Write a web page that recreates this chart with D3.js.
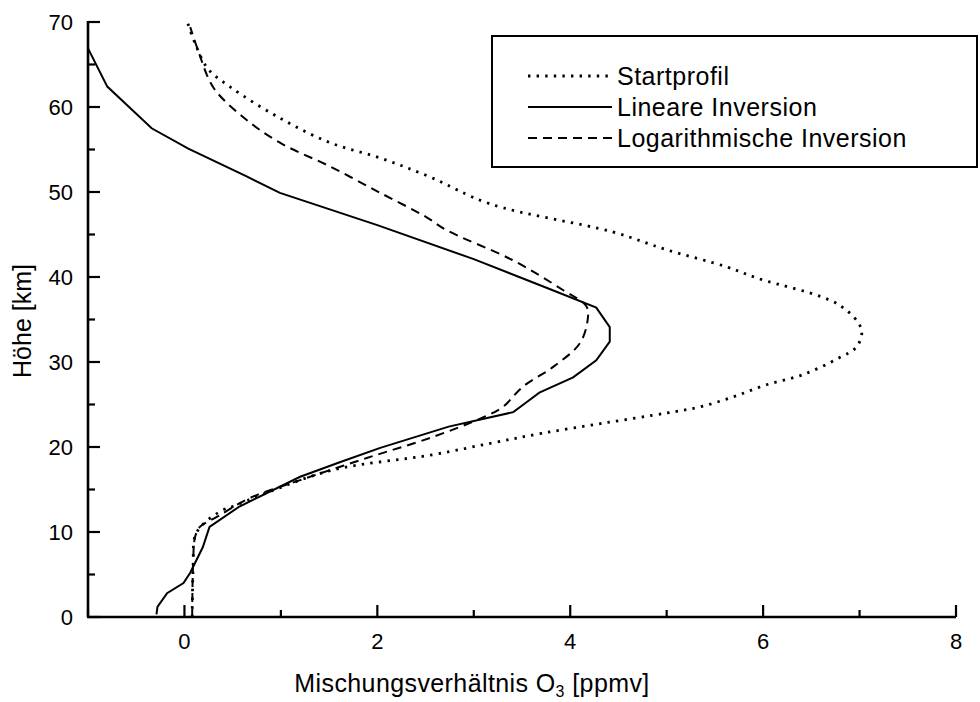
<!DOCTYPE html>
<html>
<head>
<meta charset="utf-8">
<script src="https://cdn.jsdelivr.net/npm/d3@7"></script>
<style>
  body { margin: 0; background: #fff; }
  text { font-family: "Liberation Sans", Arial, sans-serif; fill: #000; }
</style>
</head>
<body>
<div id="chart"></div>
<script>
// altitude [km] and O3 mixing ratio [ppmv]
var startAlt = [0, 6, 9.5, 11, 12.6, 13, 14.6, 17.3, 19.1, 20.5, 21.6, 22.8, 24, 24.7, 25.9, 27.3, 28.5, 30.5, 31.8, 33.8, 36.7, 39.9, 41.2, 43.2, 45.3, 48.6, 51.8, 54, 55.8, 58.7, 62.4, 64.7, 70]
var startVal = [0.08, 0.09, 0.11, 0.2, 0.4, 0.5, 0.85, 1.54, 2.58, 3.2, 3.7, 4.34, 5.0, 5.34, 5.69, 6.03, 6.41, 6.79, 6.97, 7.02, 6.79, 5.93, 5.62, 5.0, 4.44, 3.17, 2.54, 2.03, 1.51, 0.99, 0.47, 0.23, 0.03]

var linAlt = [0.3, 1.2, 2.8, 4.0, 5.2, 8.2, 10.6, 13.0, 16.5, 18.2, 19.9, 22.4, 24.1, 25.3, 26.4, 28.2, 30.2, 32.4, 34.1, 36.4, 38.7, 42.1, 46.1, 49.9, 51.8, 55.1, 57.5, 62.4, 66.9]
var linVal = [-0.29, -0.28, -0.18, -0.01, 0.06, 0.19, 0.26, 0.57, 1.2, 1.61, 2.03, 2.74, 3.41, 3.55, 3.68, 4.03, 4.27, 4.41, 4.41, 4.27, 3.76, 3.0, 2.0, 0.99, 0.65, 0.04, -0.34, -0.8, -1.0]

var logAlt = [0, 6.4, 9.4, 10.6, 11.8, 14.0, 16.1, 18.7, 21.2, 23.5, 24.7, 27.1, 29.4, 32.2, 34.9, 36.5, 38.5, 42.0, 45.5, 47.1, 49.9, 53.0, 55.8, 58.8, 62.3, 66.7, 69.4]
var logVal = [0.08, 0.09, 0.11, 0.16, 0.34, 0.68, 1.2, 1.89, 2.58, 3.1, 3.3, 3.51, 3.82, 4.1, 4.18, 4.17, 3.92, 3.4, 2.72, 2.5, 2.03, 1.51, 0.99, 0.61, 0.3, 0.14, 0.06]

var seriesNames = ["Startprofil", "Lineare Inversion", "Logarithmische Inversion"]
var xTicks = [0, 2, 4, 6, 8]
var yTicks = [0, 10, 20, 30, 40, 50, 60, 70]

var width = 980, height = 702
var margin = {top: 22, right: 24, bottom: 85, left: 88}

var svg = d3.select('#chart').append('svg')
    .attr('width', width)
    .attr('height', height)

var x = d3.scaleLinear().domain([-1, 8]).range([margin.left, 956]),
    y = d3.scaleLinear().domain([0, 70]).range([617, margin.top])

function pairs(alt, val) {
  return alt.map(function(a, i) { return {h: a, v: val[i]} })
}

var series = [
  {name: seriesNames[0], data: pairs(startAlt, startVal), dash: '2.4,6.2', w: 2.8, curve: d3.curveCatmullRom},
  {name: seriesNames[1], data: pairs(linAlt, linVal), dash: null, w: 2, curve: d3.curveLinear},
  {name: seriesNames[2], data: pairs(logAlt, logVal), dash: '9,6', w: 2, curve: d3.curveCatmullRom}
]

// axis lines (left + bottom only), ticks pointing inward
svg.append('line')
    .attr('x1', x(-1) - 1).attr('x2', x(8))
    .attr('y1', y(0)).attr('y2', y(0))
    .attr('stroke', '#000').attr('stroke-width', 2.6)
svg.append('line')
    .attr('x1', x(-1)).attr('x2', x(-1))
    .attr('y1', y(0)).attr('y2', y(70) - 1)
    .attr('stroke', '#000').attr('stroke-width', 2.6)

svg.selectAll('.xtick').data(d3.range(-1, 9, 1)).enter().append('line')
    .attr('class', 'xtick')
    .attr('x1', function(d) { return x(d) }).attr('x2', function(d) { return x(d) })
    .attr('y1', y(0))
    .attr('y2', function(d) { return y(0) - (d % 2 === 0 ? 12 : 7) })
    .attr('stroke', '#000').attr('stroke-width', 2.2)

svg.selectAll('.ytick').data(d3.range(0, 75, 5)).enter().append('line')
    .attr('class', 'ytick')
    .attr('y1', function(d) { return y(d) }).attr('y2', function(d) { return y(d) })
    .attr('x1', x(-1))
    .attr('x2', function(d) { return x(-1) + (d % 10 === 0 ? 12 : 7) })
    .attr('stroke', '#000').attr('stroke-width', 2.2)

svg.selectAll('.xlab').data(xTicks).enter().append('text')
    .attr('x', function(d) { return x(d) })
    .attr('y', y(0) + 32)
    .attr('text-anchor', 'middle')
    .attr('font-size', 22)
    .text(function(d) { return d })

svg.selectAll('.ylab').data(yTicks).enter().append('text')
    .attr('x', 73)
    .attr('y', function(d) { return y(d) + 8 })
    .attr('text-anchor', 'end')
    .attr('font-size', 22)
    .text(function(d) { return d })

// axis titles
var xt = svg.append('text')
    .attr('x', 472).attr('y', 692)
    .attr('text-anchor', 'middle')
    .attr('font-size', 25)
    .attr('letter-spacing', 0.4)
xt.append('tspan').text('Mischungsverhältnis O')
xt.append('tspan').attr('font-size', 16).attr('dy', 5).text('3')
xt.append('tspan').attr('dy', -5).text(' [ppmv]')

svg.append('text')
    .attr('transform', 'translate(31,' + 321 + ') rotate(-90)')
    .attr('text-anchor', 'middle')
    .attr('font-size', 25)
    .text('Höhe [km]')

// profiles
series.forEach(function(s) {
  var line = d3.line()
      .curve(s.curve)
      .x(function(d) { return x(d.v) })
      .y(function(d) { return y(d.h) })
  svg.append('path')
      .datum(s.data)
      .attr('fill', 'none')
      .attr('stroke', '#000')
      .attr('stroke-width', s.w)
      .attr('stroke-dasharray', s.dash)
      .attr('d', line)
})

// legend
var legend = svg.append('g')
legend.append('rect')
    .attr('x', 492).attr('y', 36)
    .attr('width', 485).attr('height', 131)
    .attr('fill', '#fff')
    .attr('stroke', '#000').attr('stroke-width', 2)

series.forEach(function(s, i) {
  var ly = 76 + i * 31
  legend.append('line')
      .attr('x1', 528).attr('x2', 612)
      .attr('y1', ly).attr('y2', ly)
      .attr('stroke', '#000')
      .attr('stroke-width', s.w)
      .attr('stroke-dasharray', s.dash)
  legend.append('text')
      .attr('x', 617).attr('y', ly + 9)
      .attr('font-size', 25)
      .attr('letter-spacing', 0.5)
      .text(s.name)
})
</script>
</body>
</html>
